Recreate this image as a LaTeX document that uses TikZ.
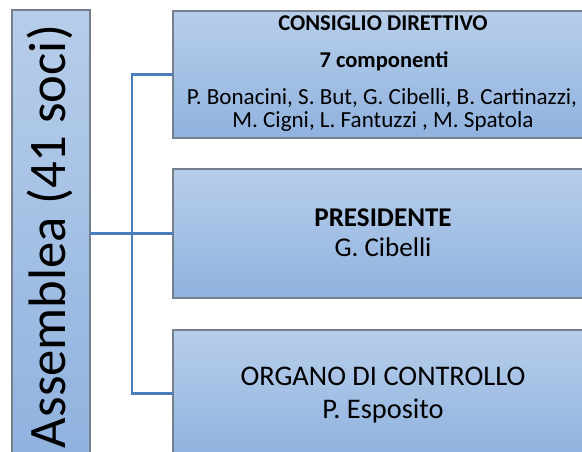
\documentclass[tikz,border=0pt]{standalone}
\usepackage{fontspec}
\setmainfont{Carlito}
\definecolor{boxtop}{HTML}{B7CEEA}
\definecolor{boxbot}{HTML}{90B2DF}
\definecolor{boxline}{HTML}{76808C}
\definecolor{conn}{HTML}{4A7EBB}
\tikzset{
  orgbox/.style={draw=boxline, line width=1.5pt, top color=boxtop, bottom color=boxbot, shading angle=0},
  conline/.style={draw=conn, line width=2.2pt},
  lbl/.style={anchor=base, inner sep=0pt, text=black},
}
\newcommand{\fsA}{\fontsize{17.3pt}{17.3pt}\selectfont}
\newcommand{\fsAb}{\fontsize{16.9pt}{16.9pt}\selectfont\bfseries}
\newcommand{\fsB}{\fontsize{20.3pt}{20.3pt}\selectfont}
\newcommand{\fsC}{\fontsize{21.3pt}{21.3pt}\selectfont}
\newcommand{\fsD}{\fontsize{39.5pt}{39.5pt}\selectfont}
\begin{document}
\begin{tikzpicture}[x=0.75pt,y=-0.75pt]
\useasboundingbox (0,0) rectangle (582,452);
\clip (0,0) rectangle (582,452);
\fill[white] (0,0) rectangle (582,452);
% boxes
\path[orgbox] (12,10) rectangle (90,462);
\node[inner sep=0pt, minimum width=78*0.75pt, minimum height=452*0.75pt] (ass) at (51,236) {};
\path[orgbox] (173,11) rectangle (593,138);
\node[inner sep=0pt, minimum width=420*0.75pt, minimum height=127*0.75pt] (b1) at (383,74.5) {};
\path[orgbox] (173,169) rectangle (593,298);
\node[inner sep=0pt, minimum width=420*0.75pt, minimum height=129*0.75pt] (b2) at (383,233.5) {};
\path[orgbox] (173,330) rectangle (593,457);
\node[inner sep=0pt, minimum width=420*0.75pt, minimum height=127*0.75pt] (b3) at (383,393.5) {};
% connectors
\coordinate (hub) at (132,233.5);
\draw[conline] (b2.west -| ass.east) -- (b2.west);
\draw[conline] (b1.west) -| (hub) |- (b3.west);
% texts
\node[lbl, rotate=90] (tass) at (65,236.5) {\fsD Assemblea (41 soci)};
\node[lbl] (t1a) at (383,31) {\fsAb CONSIGLIO DIRETTIVO};
\node[lbl] (t1b) at (384,68) {\fsAb 7 componenti};
\node[lbl] (t1c) at (382,105) {\fsA P. Bonacini, S. But, G. Cibelli, B. Cartinazzi,};
\node[lbl] (t1d) at (383,128) {\fsA M. Cigni, L. Fantuzzi , M. Spatola};
\node[lbl] (t2a) at (383,227) {\fsB\bfseries PRESIDENTE};
\node[lbl] (t2b) at (383,257) {\fsB G. Cibelli};
\node[lbl] (t3a) at (383,385) {\fsC ORGANO DI CONTROLLO};
\node[lbl] (t3b) at (383,418) {\fsC P. Esposito};
\end{tikzpicture}
\end{document}
